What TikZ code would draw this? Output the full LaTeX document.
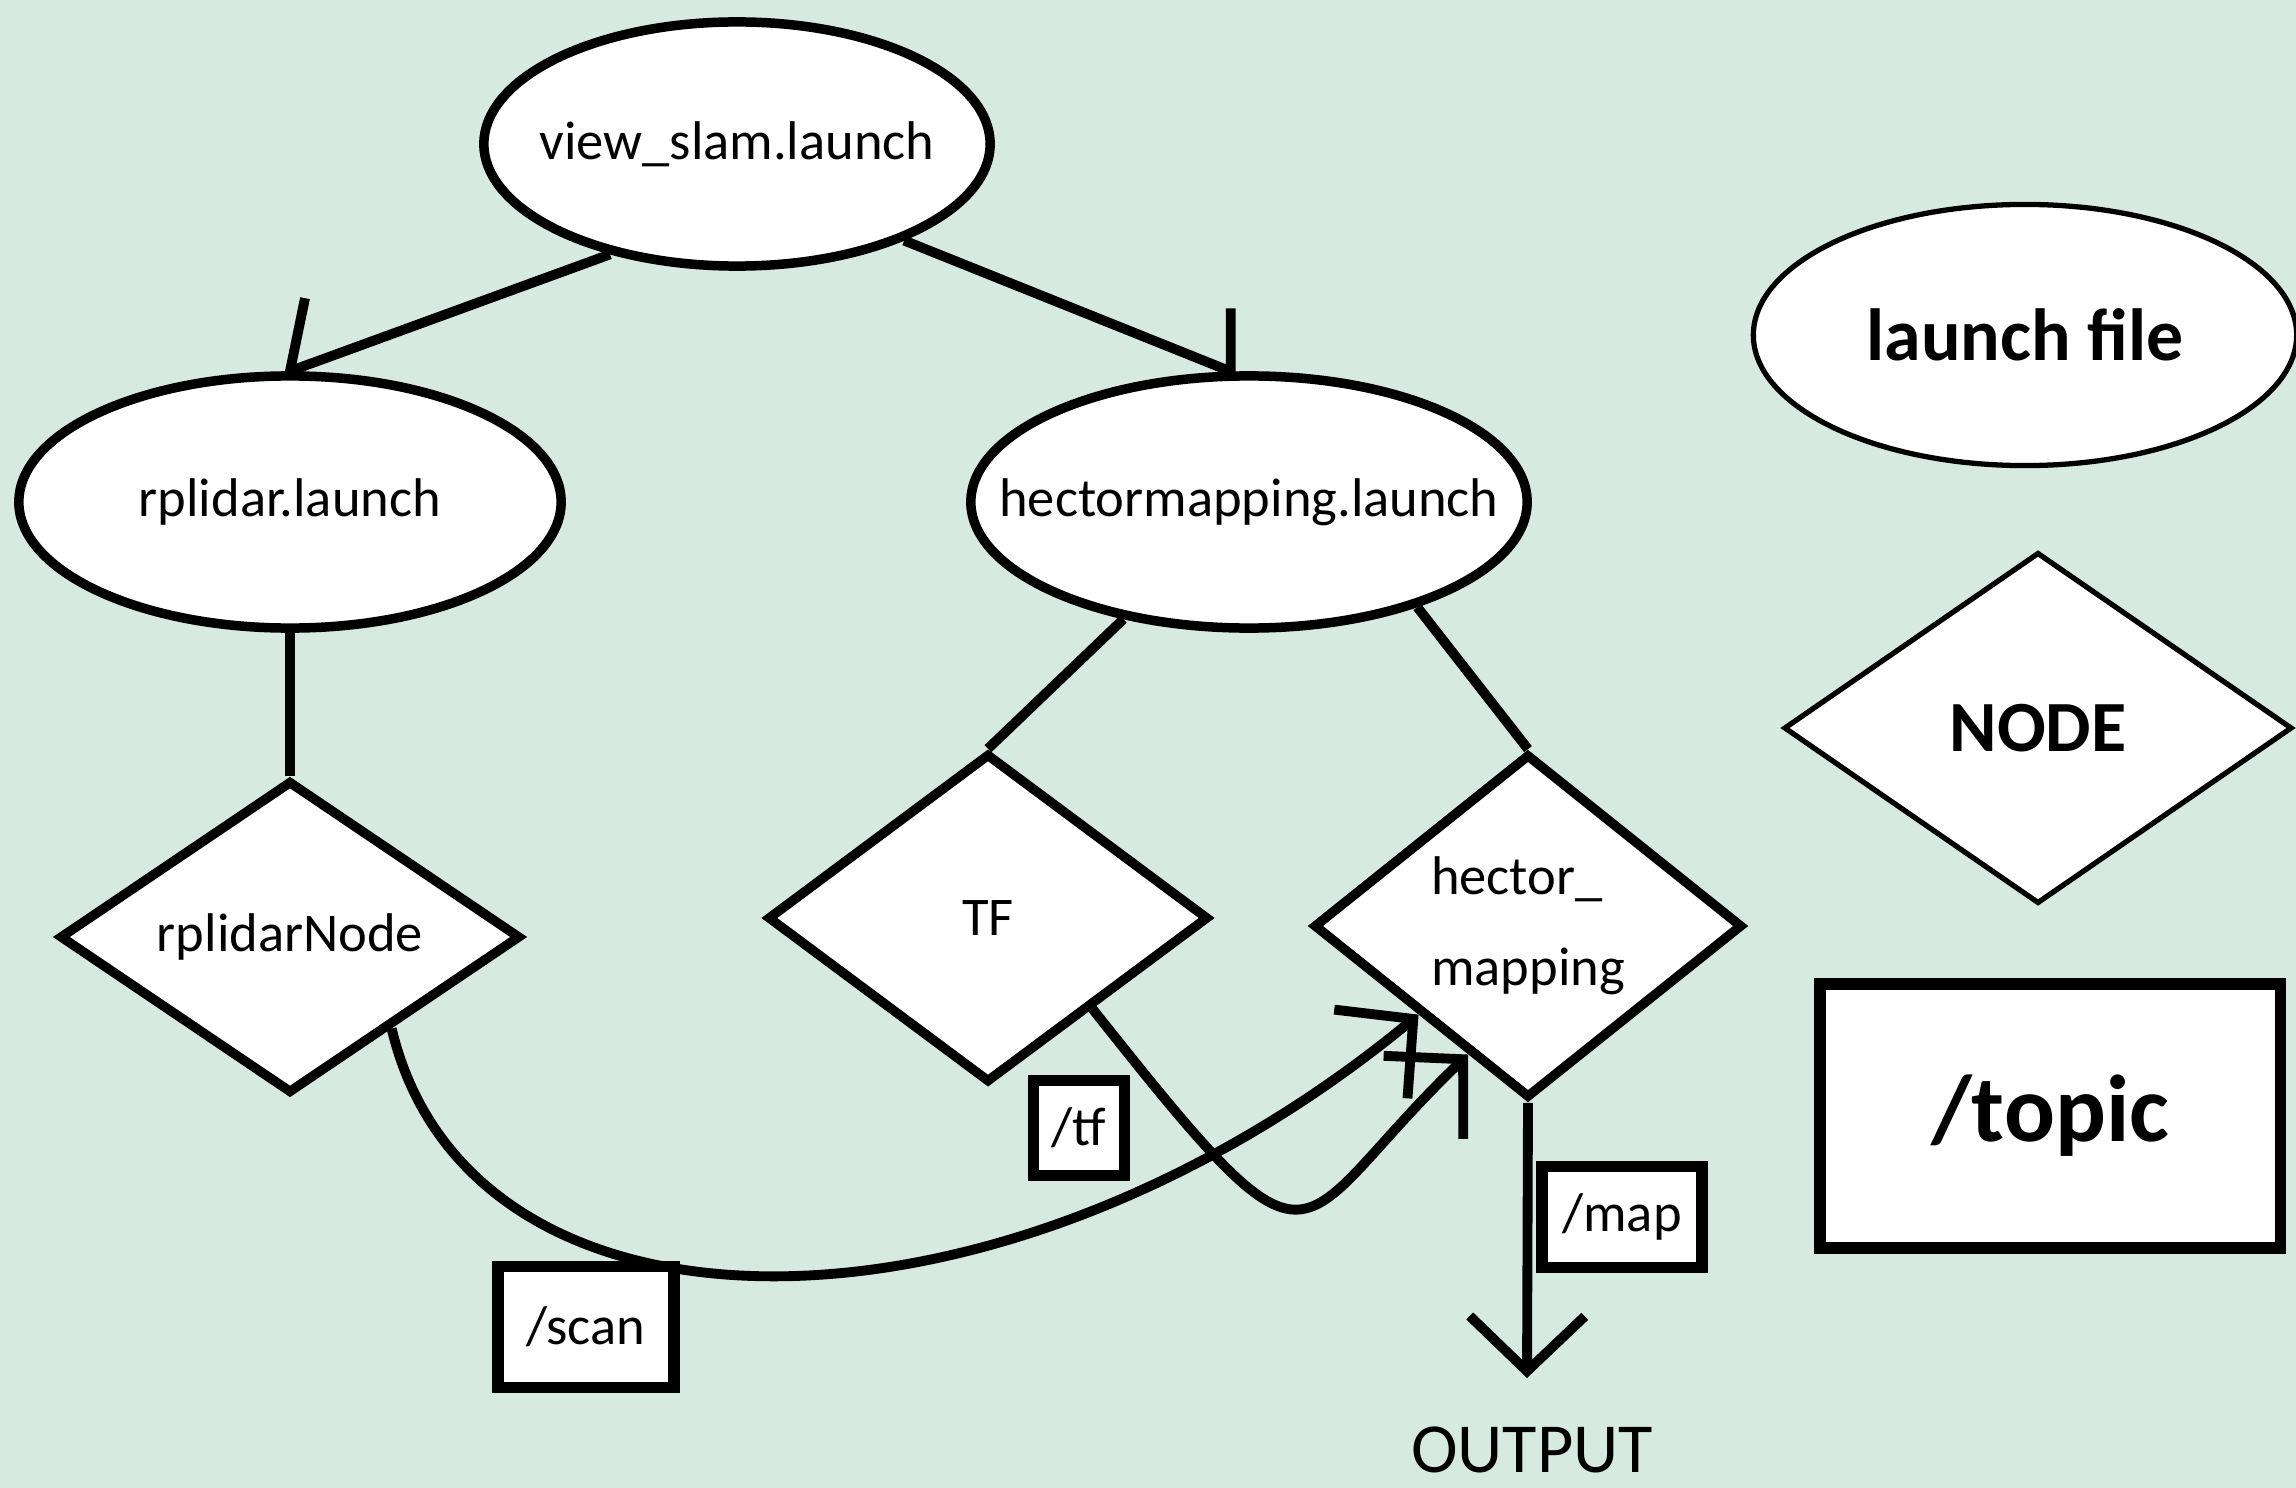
\documentclass[tikz,border=0pt]{standalone}
\usepackage{fontspec}
\setmainfont{Carlito}
\usetikzlibrary{shapes.geometric,arrows.meta}
\definecolor{fondo}{RGB}{214,234,226}

\begin{document}
\begin{tikzpicture}[x=0.01cm, y=-0.01cm,
    font=\fontsize{15.5}{19}\selectfont,
    lanzador/.style={ellipse, draw, fill=white, line width=2.7pt, inner sep=0pt},
    nodo/.style={diamond, draw, fill=white, line width=2.7pt, inner sep=0pt},
    tema/.style={rectangle, draw, fill=white, line width=3.2pt, inner sep=0pt},
    linea/.style={line width=2.8pt, line join=round},
    flecha/.style={line width=2.8pt, -{Straight Barb[length=0.55cm, width=1.15cm]}}]
    % Fondo
    \fill[fondo] (0,0) rectangle (2296,1488);
    \useasboundingbox (0,0) rectangle (2296,1488);
    % Archivos launch
    \node[lanzador, minimum width=5.06cm, minimum height=2.44cm] (view) at (737,144) {\makebox[0pt]{view\_slam.launch}};
    \node[lanzador, minimum width=5.42cm, minimum height=2.52cm] (rpl) at (290,502) {\makebox[0pt]{rplidar.launch}};
    \node[lanzador, minimum width=5.56cm, minimum height=2.52cm] (hl) at (1249,502) {\makebox[0pt]{hectormapping.launch}};
    % Nodos
    \node[nodo, minimum width=4.61cm, minimum height=3.08cm] (rplnode) at (290,937) {rplidarNode};
    \node[nodo, minimum width=4.41cm, minimum height=3.29cm] (tf) at (988,918) {TF};
    \node[nodo, minimum width=4.29cm, minimum height=3.44cm, align=left] (hm) at (1528,926) {hector\_\\[7pt]mapping};
    % Salida
    \node (out) at (1532,1450) {\fontsize{20}{24}\selectfont OUTPUT};
    \coordinate (fin) at (1527,1378);
    % Conexiones
    \draw[linea] (view.221) -- (rpl.north) -- ++(15,-73);
    \draw[linea] (view.330) -- (hl.98) -- ++(0,-63);
    \draw[linea] (rpl.south) -- (rplnode.north);
    \draw[linea] (hl.223) -- (tf.north);
    \draw[linea] (hl.328) -- (hm.north);
    % Topicos
    \draw[flecha] (rplnode.318) .. controls (470,1360) and (1000,1360) .. (hm.219);
    \draw[flecha] (tf.319) .. controls (1327,1305) and (1285,1230) .. (hm.245);
    \draw[flecha] (hm.south) -- (fin);
    \node[tema, minimum width=1.76cm, minimum height=1.21cm] (scan) at (586,1327) {/scan};
    \node[tema, minimum width=0.91cm, minimum height=0.95cm] (tftopic) at (1079,1128) {/tf};
    \node[tema, minimum width=1.60cm, minimum height=1.01cm] (map) at (1622,1217) {/map};
    % Leyenda
    \node[lanzador, line width=1.5pt, minimum width=5.43cm, minimum height=2.61cm] (leylanz) at (2025,335) {\bfseries\fontsize{21}{25}\selectfont launch file};
    \node[nodo, line width=1.5pt, minimum width=5.08cm, minimum height=3.51cm] (leynodo) at (2038,728) {\bfseries\fontsize{20.5}{25}\selectfont NODE};
    \node[tema, minimum width=4.6cm, minimum height=2.64cm] (leytema) at (2050,1116) {\bfseries\fontsize{27}{32}\selectfont /topic};
\end{tikzpicture}
\end{document}
